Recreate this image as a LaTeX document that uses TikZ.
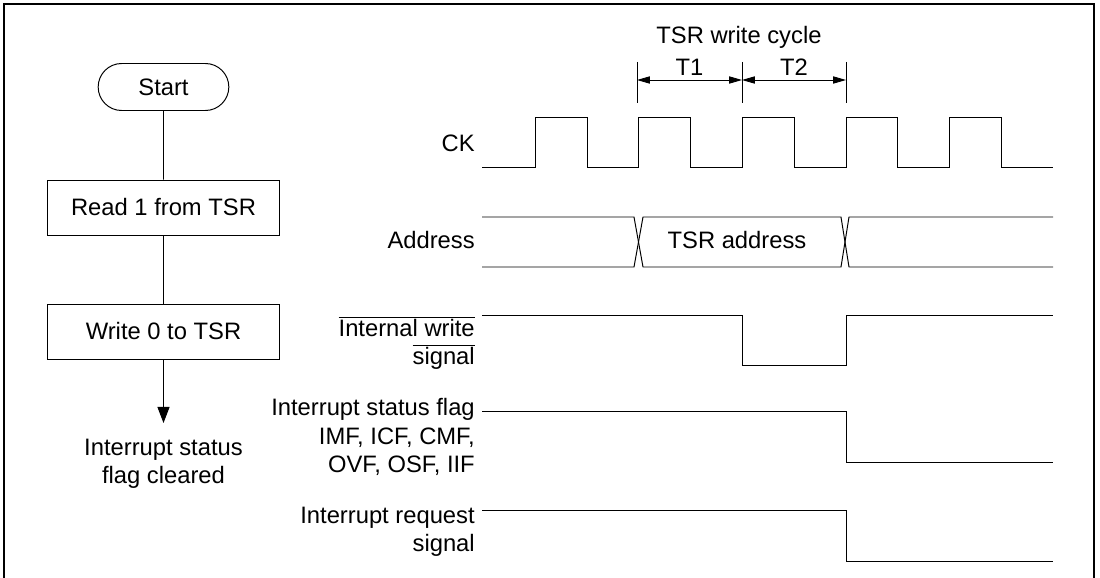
\documentclass[tikz,border=0pt]{standalone}
\usepackage{fontspec}
\setmainfont{Liberation Sans}
\usetikzlibrary{arrows.meta,shapes.misc}
\newcommand{\sigfont}{\fontsize{16.9}{20.2}\selectfont}
\newcommand{\ovl}[1]{$\overline{\mbox{#1}}$}

\begin{document}
\begin{tikzpicture}[x=0.025cm, y=-0.025cm,
  term/.style={draw, line width=0.7pt, rounded rectangle, minimum width=3.5cm, minimum height=1.175cm, font=\sigfont},
  proc/.style={draw, line width=0.7pt, rectangle, minimum width=5.775cm, minimum height=1.375cm, font=\sigfont},
  lbl/.style={font=\sigfont, align=right, anchor=east, inner sep=0pt},
  txt/.style={font=\sigfont, align=center, inner sep=0pt},
  wave/.style={line width=0.7pt},
  tick/.style={line width=0.6pt}]
\useasboundingbox (0,0) rectangle (1100,578);
\draw[line width=0.9pt] (4,578) -- (4,4) -- (1094,4) -- (1094,578);

% flowchart
\node[term] (start) at (163.5,87)    {Start};
\node[proc] (rd)    at (163.5,207.5) {Read 1 from TSR};
\node[proc] (wr)    at (163.5,331.5) {Write 0 to TSR};
\node[txt]  (clr)   at (163.5,464)   {Interrupt status\\flag cleared};
\coordinate (clrtip) at (163.5,423);
\draw[wave] (start) -- (rd);
\draw[wave] (rd) -- (wr);
\draw[wave, -{Triangle[length=0.4cm, width=0.3cm]}] (wr) -- (clrtip);

% timing
\node[txt, anchor=base] (cyc) at (739,44) {TSR write cycle};
\draw[tick] (637,62) -- (637,103);
\draw[tick] (742,62) -- (742,103);
\draw[tick] (846,62) -- (846,103);
\draw[tick, {Triangle[length=0.32cm, width=0.18cm]}-{Triangle[length=0.32cm, width=0.18cm]}] (637,80) -- (742,80);
\draw[tick, {Triangle[length=0.32cm, width=0.18cm]}-{Triangle[length=0.32cm, width=0.18cm]}] (742,80) -- (846,80);
\node[txt, anchor=base] (t1) at (689.5,76) {T1};
\node[txt, anchor=base] (t2) at (794,76) {T2};

\node[lbl] (ck)   at (475,143) {CK};
\node[lbl] (addr) at (475,240) {Address};
\node[lbl] (iwr)  at (475,343) {\ovl{Internal write}\\\ovl{signal}};
\node[lbl] (isf)  at (475,437) {Interrupt status flag\\IMF, ICF, CMF,\\OVF, OSF, IIF};
\node[lbl] (irq)  at (475,532) {Interrupt request\\signal};

\draw[wave] (482,167) -| (535,117) -| (587,167) -| (638,117) -| (690,167) -| (742,117) -| (794,167)
  -| (846,117) -| (897,167) -| (949,117) -| (1001,167) -- (1053,167);
\draw[wave] (482,217) -- (634,217) -- (643,267) -- (841,267) -- (849,217) -- (1053,217);
\draw[wave] (482,267) -- (634,267) -- (643,217) -- (841,217) -- (849,267) -- (1053,267);
\node[txt] (tsra) at (737,240.5) {TSR address};
\draw[wave] (482,315) -| (742,365) -| (846,315) -- (1053,315);
\draw[wave] (482,411) -| (846,462) -- (1053,462);
\draw[wave] (482,510) -| (846,561) -- (1053,561);
\end{tikzpicture}
\end{document}
